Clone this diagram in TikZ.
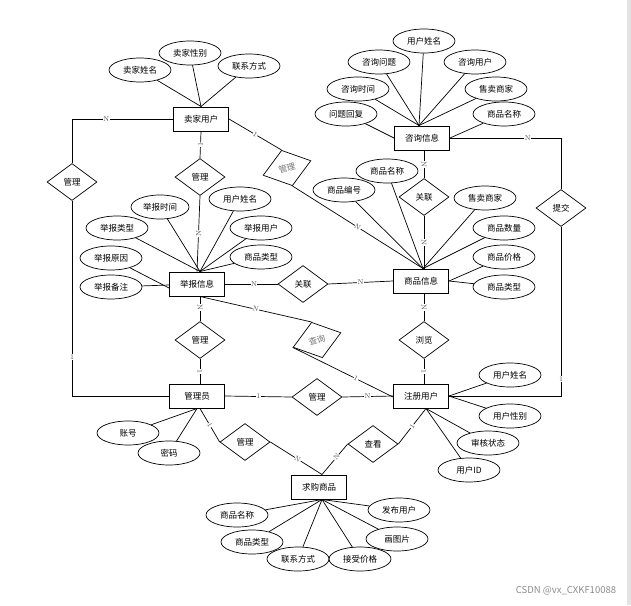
\documentclass[tikz,border=0pt]{standalone}
\usepackage{fontspec}
\newfontfamily\cjk{Noto Sans CJK SC}
\usetikzlibrary{shapes.geometric}
\tikzset{
  cn/.style={font=\cjk\fontsize{8.5}{9}\selectfont},
  ent/.style={cn, draw, line width=1pt, minimum width=55pt, minimum height=24pt, inner sep=0pt},
  att/.style={cn, draw, ellipse, line width=0.7pt, minimum width=62pt, minimum height=24pt, inner sep=0pt},
  rel/.style={cn, draw, diamond, line width=0.7pt, minimum width=50pt, minimum height=37pt, inner sep=0pt},
  relr/.style={rel, rotate=17, text=black!55},
  con/.style={line width=0.7pt},
  lab/.style={font=\rmfamily\fontsize{7}{7}\selectfont, fill=white, inner sep=0.4pt, text=black!70},
}
\begin{document}
\begin{tikzpicture}[x=1pt,y=-1pt]
\useasboundingbox (0,0) rectangle (631,605);
\fill[white] (0,0) rectangle (631,605);
\fill[gray!22] (626.5,0) rectangle (631,605);

% entities
\node[ent] (sj)  at (201,119) {卖家用户};
\node[ent] (zx)  at (422,138) {咨询信息};
\node[ent] (jb)  at (197,284) {举报信息};
\node[ent] (sp)  at (421,281) {商品信息};
\node[ent] (gly) at (197,396) {管理员};
\node[ent] (zc)  at (421,396) {注册用户};
\node[ent] (qg)  at (319,487) {求购商品};

% relationships
\node[rel] (gl1) at (72,182) {管理};
\node[rel] (gl2) at (200,177) {管理};
\node[relr] (gl3) at (287,168) {管理};
\node[rel] (gl4) at (424,197) {关联};
\node[rel] (gl5) at (303,284) {关联};
\node[rel] (gl6) at (200,340) {管理};
\node[relr] (cx) at (317,340) {查询};
\node[rel] (ll)  at (424,340) {浏览};
\node[rel] (gl7) at (317,397) {管理};
\node[rel] (tj)  at (561,208) {提交};
\node[rel] (gl8) at (245,442) {管理};
\node[rel] (ck)  at (373,444) {查看};

% attributes of 卖家用户
\node[att] (a1) at (140,70) {卖家姓名};
\node[att] (a2) at (190,53) {卖家性别};
\node[att] (a3) at (249,66) {联系方式};
\foreach \a in {a1,a2,a3} \draw[con] (\a) -- (sj.north);

% attributes of 咨询信息
\node[att] (b1) at (424,41) {用户姓名};
\node[att] (b2) at (379,62) {咨询问题};
\node[att] (b3) at (475,62) {咨询用户};
\node[att] (b4) at (358,89) {咨询时间};
\node[att] (b5) at (496,89) {售卖商家};
\node[att] (b6) at (346,114) {问题回复};
\node[att] (b7) at (504,114) {商品名称};
\foreach \a in {b1,b2,b3,b4,b5} \draw[con] (\a) -- ([xshift=-3pt]zx.north);
\draw[con] (b6) -- (zx.west);
\draw[con] (b7) -- (zx.east);

% attributes of 举报信息
\node[att, minimum width=58pt] (c1) at (160,207) {举报时间};
\node[att] (c2) at (240,199) {用户姓名};
\node[att] (c3) at (117,228) {举报类型};
\node[att] (c4) at (261,228) {举报用户};
\node[att] (c5) at (111,258) {举报原因};
\node[att] (c6) at (261,257) {商品类型};
\node[att] (c7) at (111,287) {举报备注};
\foreach \a in {c1,c2,c3,c4,c6} \draw[con] (\a) -- ([xshift=3pt]jb.north);
\draw[con] (c5) -- ([yshift=-4pt]jb.west);
\draw[con] (c7) -- ([yshift=-1pt]jb.west);

% attributes of 商品信息
\node[att] (d1) at (387,171) {商品名称};
\node[att] (d2) at (344,190) {商品编号};
\node[att] (d3) at (485,198) {售卖商家};
\node[att] (d4) at (504,228) {商品数量};
\node[att] (d5) at (504,257) {商品价格};
\node[att] (d6) at (504,287) {商品类型};
\foreach \a in {d1,d2,d3,d4} \draw[con] (\a) -- ([xshift=2pt]sp.north);
\draw[con] (d5) -- (sp.east);
\draw[con] (d6) -- (sp.east);

% attributes of 注册用户
\node[att] (e1) at (510,375) {用户姓名};
\node[att] (e2) at (510,416) {用户性别};
\node[att] (e3) at (488,443) {审核状态};
\node[att] (e4) at (469,470) {用户ID};
\draw[con] (e1) -- (zc.east);
\draw[con] (e2) -- (zc.east);
\draw[con] (e3) -- ([xshift=5pt]zc.south);
\draw[con] (e4) -- ([xshift=5pt]zc.south);

% attributes of 管理员
\node[att] (f1) at (128,433) {账号};
\node[att] (f2) at (169,453) {密码};
\draw[con] (f1) -- (gly.south);
\draw[con] (f2) -- (gly.south);

% attributes of 求购商品
\node[att] (g1) at (237,515) {商品名称};
\node[att] (g2) at (399,510) {发布用户};
\node[att] (g3) at (252,542) {商品类型};
\node[att] (g4) at (397,539) {画图片};
\node[att] (g5) at (298,559) {联系方式};
\node[att] (g6) at (360,559) {接受价格};
\foreach \a in {g1,g2,g3,g4,g5,g6} \draw[con] (\a) -- ([xshift=3pt]qg.south);

% relationship connectors
\draw[con] (sj.west) -| node[lab, pos=0.33] {N} (gl1.north);
\draw[con] (gl1.south) |- node[lab, pos=0.40] {1} (gly.west);
\draw[con] (sj.south) -- node[lab, sloped] {1} (gl2.north);
\draw[con] (gl2.south) -- node[lab, sloped] {N} (jb.north);
\draw[con] (sj.east) -- node[lab, sloped] {1} (gl3.north);
\draw[con] (gl3.south) -- node[lab, sloped] {N} ([xshift=2pt]sp.north);
\draw[con] ([xshift=2pt]zx.south) -- node[lab, sloped] {N} (gl4.north);
\draw[con] (gl4.south) -- node[lab, sloped] {N} ([xshift=3pt]sp.north);
\draw[con] (jb.east) -- node[lab, pos=0.55] {N} (gl5.west);
\draw[con] (gl5.east) -- node[lab] {N} (sp.west);
\draw[con] ([xshift=3pt]jb.south) -- node[lab, sloped, pos=0.45] {N} (gl6.north);
\draw[con] (gl6.south) -- node[lab, sloped] {1} ([xshift=3pt]gly.north);
\draw[con] ([xshift=3pt]jb.south) -- node[lab, sloped] {N} (cx.north);
\draw[con] (cx.west) -- node[lab, sloped, pos=0.63] {1} ([yshift=-1pt]zc.west);
\draw[con] (gly.east) -- node[lab] {1} (gl7.west);
\draw[con] (gl7.east) -- node[lab] {N} (zc.west);
\draw[con] ([xshift=3pt]sp.south) -- node[lab, sloped] {N} (ll.north);
\draw[con] (ll.south) -- node[lab, sloped] {1} ([xshift=3pt]zc.north);
\draw[con] (zc.east) -| node[lab, pos=0.55] {1} (tj.south);
\draw[con] (tj.north) |- node[lab, pos=0.65] {N} (zx.east);
\draw[con] ([xshift=3pt]gly.south) -- node[lab, sloped] {1} (gl8.west);
\draw[con] (gl8.east) -- node[lab, sloped, pos=0.53] {N} ([xshift=3pt]qg.north);
\draw[con] (ck.west) -- node[lab, sloped, pos=0.43] {N} ([xshift=3pt]qg.north);
\draw[con] ([xshift=5pt]zc.south) -- node[lab, sloped] {1} (ck.east);

% watermark
\node[font=\cjk\fontsize{9.5}{10}\selectfont, text=black!45] (wm) at (566,591) {CSDN @vx\_CXKF10088};
\end{tikzpicture}
\end{document}
